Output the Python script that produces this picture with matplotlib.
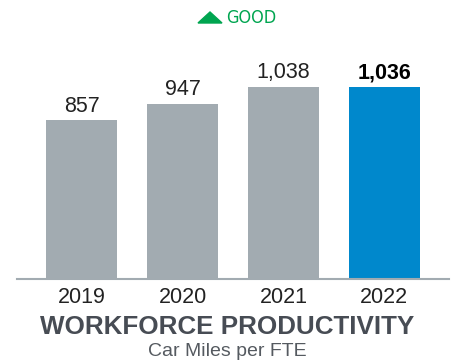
import matplotlib.pyplot as plt
from matplotlib.patches import Polygon

years = ["2019", "2020", "2021", "2022"]
miles = [857, 947, 1038, 1036]
labels = ["857", "947", "1,038", "1,036"]

grey = "#a2abb1"
blue = "#0088cc"
colors = [grey, grey, grey, blue]

plt.rcParams['font.family'] = ['Liberation Sans', 'DejaVu Sans']

W, H = 455, 364
fig = plt.figure(figsize=(W / 100, H / 100), dpi=100)
ax = fig.add_axes([17 / W, 1 - 279 / H, 432 / W, 239 / H])

x = range(len(years))
ax.bar(x, miles, width=0.70, color=colors, zorder=2)
for i, (v, t) in enumerate(zip(miles, labels)):
    last = i == len(miles) - 1
    ax.text(i, v + 20, t, ha='center', va='bottom', fontsize=15.5,
            fontweight='bold' if last else 'normal',
            color='black' if last else '#222222')

ax.set_xlim(-0.64, 3.64)
ax.set_ylim(0, 1290)
ax.set_xticks(list(x))
ax.set_xticklabels(years, fontsize=15.5, color='#222222')
ax.tick_params(axis='x', length=0, pad=6)
ax.set_yticks([])
for s in ['top', 'left', 'right']:
    ax.spines[s].set_visible(False)
ax.spines['bottom'].set_color(grey)
ax.spines['bottom'].set_linewidth(1.5)

# headline and unit
fig.text(0.5, 1 - 327 / H, "WORKFORCE PRODUCTIVITY", ha='center', va='center',
         fontsize=18.7, fontweight='bold', color='#474c54')
fig.text(0.5, 1 - 352 / H, "Car Miles per FTE", ha='center', va='center',
         fontsize=14, color='#555a60')

# direction marker
green = "#00a550"
tri = Polygon([(198 / W, 1 - 23 / H), (222 / W, 1 - 23 / H), (210 / W, 1 - 12 / H)],
              closed=True, transform=fig.transFigure, color=green)
fig.patches.append(tri)
fig.text(226 / W, 1 - 18 / H, "GOOD", ha='left', va='center',
         fontsize=13, color=green,
         family=['DejaVu Sans'], fontstretch='condensed')

fig.savefig("out.png", dpi=100)
